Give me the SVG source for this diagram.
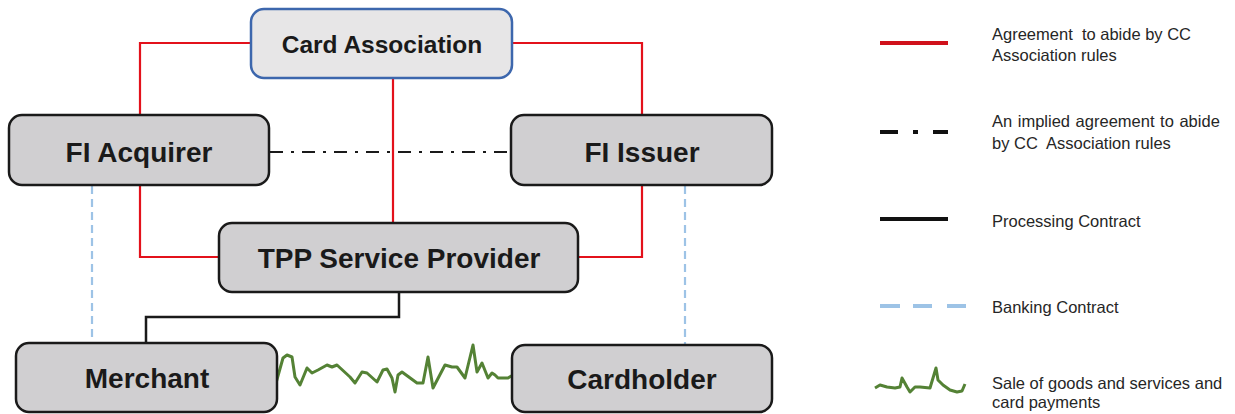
<svg xmlns="http://www.w3.org/2000/svg" width="1235" height="414" viewBox="0 0 1235 414">
<style>
.node{fill:#d0cfd1;stroke:#1a1a1a;stroke-width:2.5}
.assoc{fill:#e7e6e7;stroke:#3d67ad;stroke-width:2.5}
.lbl{font-family:"Liberation Sans",Arial,sans-serif;font-weight:bold;font-size:28px;fill:#1a1a1a;text-anchor:middle}
.lbl2{font-family:"Liberation Sans",Arial,sans-serif;font-weight:bold;font-size:24.5px;fill:#1a1a1a;text-anchor:middle}
.red{fill:none;stroke:#e3111b;stroke-width:2.2}
.dashdot{fill:none;stroke:#1a1a1a;stroke-width:2;stroke-dasharray:13 8 3 8}
.blue{fill:none;stroke:#9dc3e6;stroke-width:2.2;stroke-dasharray:8 5}
.proc{fill:none;stroke:#1a1a1a;stroke-width:2.5}
.green{fill:none;stroke:#548235;stroke-width:3;stroke-linejoin:round}
.leg{font-family:"Liberation Sans",Arial,sans-serif;font-size:16.5px;fill:#262626}
</style>
<rect width="1235" height="414" fill="#ffffff"/>
<g id="connectors">
<path class="red" d="M251,43 H140 V115"/>
<path class="red" d="M512,43 H642 V115"/>
<path class="red" d="M393,78 V223"/>
<path class="red" d="M140,185 V257 H219"/>
<path class="red" d="M642,185 V257 H578"/>
<path class="dashdot" d="M270,152 H511"/>
<path class="blue" d="M92,186 V343"/>
<path class="blue" d="M685,186 V345"/>
<path class="proc" d="M399,292 V317 H146 V343"/>
<path class="green" d="M276,383 L283,358 L287,355 L292,357 L295,377 L300,385 L307,368 L312,373 L318,370 L327,365 L332,367 L337,365 L350,377 L355,383 L362,372 L367,373 L377,382 L383,370 L387,369 L392,378 L395,392 L398,375 L402,372 L417,383 L423,383 L428,357 L433,388 L445,365 L452,367 L457,367 L465,378 L473,345 L477,372 L482,363 L488,378 L492,373 L495,375 L498,378 L508,378 L513,375"/>
</g>
<g id="card-association">
<rect class="assoc" x="251" y="9" width="261" height="69" rx="13"/>
<text class="lbl2" x="382" y="53">Card Association</text>
</g>
<g id="fi-acquirer">
<rect class="node" x="9" y="115" width="260" height="70" rx="13"/>
<text class="lbl" x="139" y="162">FI Acquirer</text>
</g>
<g id="fi-issuer">
<rect class="node" x="511" y="115" width="261" height="70" rx="13"/>
<text class="lbl" x="642" y="162">FI Issuer</text>
</g>
<g id="tpp-service-provider">
<rect class="node" x="219" y="223" width="359" height="69" rx="13"/>
<text class="lbl" x="399" y="268">TPP Service Provider</text>
</g>
<g id="merchant">
<rect class="node" x="16" y="343" width="261" height="69" rx="13"/>
<text class="lbl" x="147" y="388">Merchant</text>
</g>
<g id="cardholder">
<rect class="node" x="512" y="345" width="260" height="67" rx="13"/>
<text class="lbl" x="642" y="389">Cardholder</text>
</g>
<g id="legend">
<line x1="880" y1="43" x2="948" y2="43" stroke="#d0111b" stroke-width="4"/>
<text class="leg" x="992" y="40">Agreement&#160; to abide by CC</text>
<text class="leg" x="992" y="61">Association rules</text>
<path d="M880,132 H898 M913,132 H918 M933,132 H948" stroke="#111" stroke-width="4" fill="none"/>
<text class="leg" x="992" y="127" word-spacing="1">An implied agreement to abide</text>
<text class="leg" x="992" y="149">by CC&#160; Association rules</text>
<line x1="880" y1="219" x2="948" y2="219" stroke="#111" stroke-width="4"/>
<text class="leg" x="992" y="227">Processing Contract</text>
<path d="M880,306 H900 M913,306 H932 M947,306 H966" stroke="#9dc3e6" stroke-width="4" fill="none"/>
<text class="leg" x="992" y="313">Banking Contract</text>
<path class="green" stroke-width="4" d="M875,388 L880,385 L887,387 L895,388 L900,387 L902,378 L907,387 L910,392 L915,387 L920,387 L930,388 L936,368 L938,380 L943,385 L950,390 L957,392 L962,391 L965,384"/>
<text class="leg" x="992" y="389">Sale of goods and services and</text>
<text class="leg" x="992" y="408">card payments</text>
</g>
</svg>
